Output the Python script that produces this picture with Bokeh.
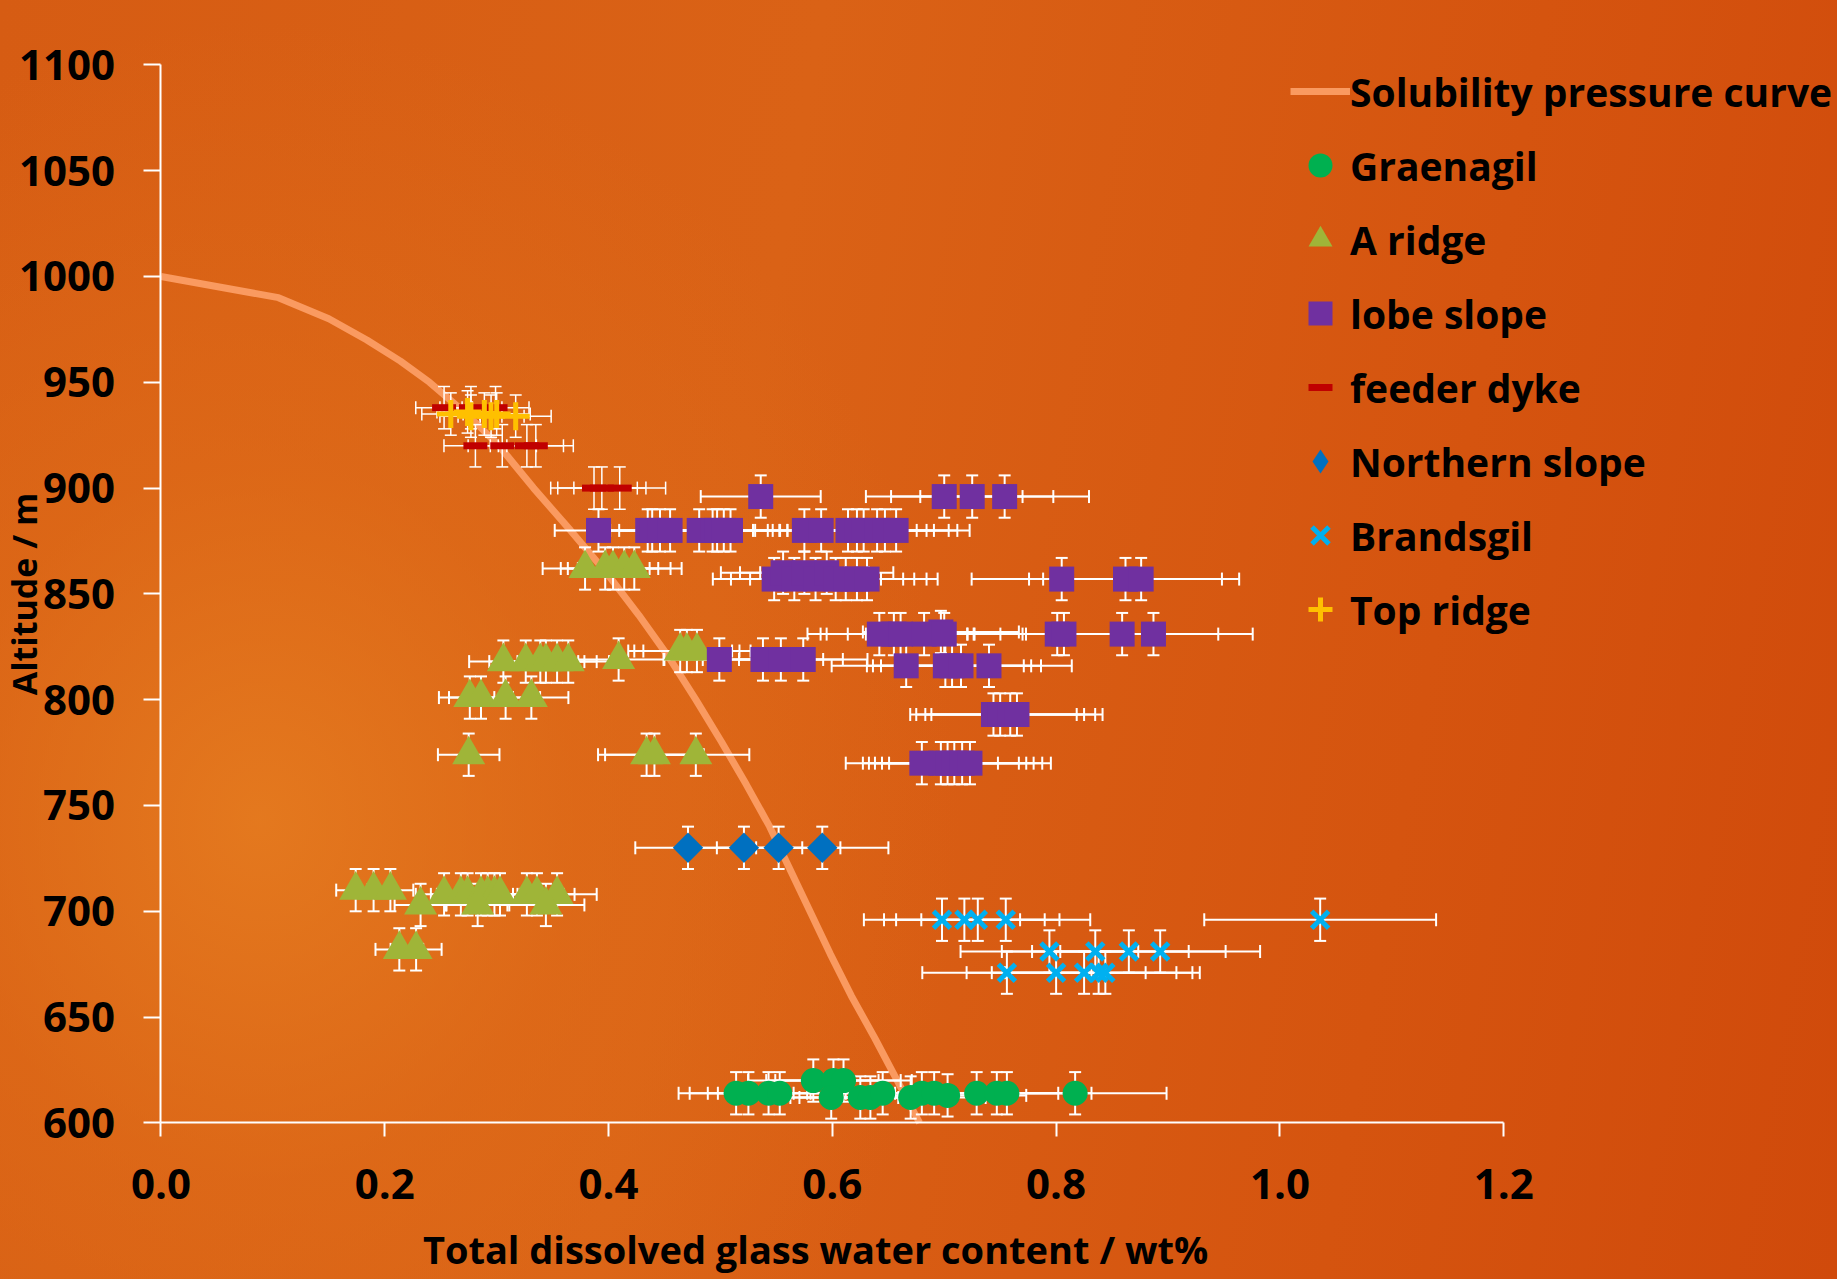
from math import pi
from bokeh.plotting import figure
from bokeh.models import (Legend, LegendItem, FixedTicker, NumeralTickFormatter,
                          Label, GlobalInlineStyleSheet)
from bokeh.embed import file_html
from bokeh.resources import INLINE

# ---------------- data ----------------
x_ticks = [0.0, 0.2, 0.4, 0.6, 0.8, 1.0, 1.2]
y_ticks = [600, 650, 700, 750, 800, 850, 900, 950, 1000, 1050, 1100]

curve_water = [0.0, 0.105, 0.150, 0.184, 0.214, 0.240, 0.262, 0.283, 0.302, 0.333,
               0.366, 0.398, 0.427, 0.454, 0.478, 0.501, 0.523, 0.544, 0.562, 0.580,
               0.598, 0.617, 0.638, 0.658, 0.678]
curve_alt = [1000, 990, 980, 970, 960, 950, 940, 930, 920, 900,
             880, 860, 840, 820, 800, 780, 760, 740, 720, 700,
             680, 660, 640, 620, 600]

graenagil_water = [0.514, 0.525, 0.543, 0.553, 0.583, 0.601, 0.610, 0.599, 0.625, 0.634,
                   0.645, 0.670, 0.680, 0.691, 0.703, 0.729, 0.747, 0.756, 0.817]
graenagil_alt = [614, 614, 614, 614, 620, 620, 620, 612, 612, 612,
                 614, 612, 614, 614, 613, 614, 614, 614, 614]

a_ridge_water = [0.174, 0.190, 0.205, 0.232,
                 0.253, 0.268, 0.274, 0.286, 0.292, 0.298, 0.303, 0.327, 0.336, 0.354,
                 0.283, 0.344, 0.213, 0.228,
                 0.275, 0.434, 0.441, 0.478,
                 0.276, 0.286, 0.308, 0.331,
                 0.306, 0.326, 0.339, 0.344, 0.354, 0.364, 0.409,
                 0.464, 0.470, 0.479,
                 0.379, 0.397, 0.404, 0.414, 0.423]
a_ridge_alt = [710, 710, 710, 703,
               708, 708, 708, 708, 708, 708, 708, 708, 708, 708,
               703, 703, 682, 682,
               774, 774, 774, 774,
               801, 801, 801, 801,
               818, 818, 818, 818, 818, 818, 819,
               823, 823, 823,
               862, 862, 862, 862, 862]

lobe_water = [0.536, 0.700, 0.725, 0.754,
              0.391, 0.435, 0.439, 0.446, 0.455, 0.481, 0.493, 0.497, 0.503, 0.509,
              0.575, 0.590, 0.614, 0.622, 0.628, 0.640, 0.647, 0.657,
              0.548, 0.556, 0.566, 0.575, 0.585, 0.595, 0.603, 0.612, 0.622, 0.631,
              0.805, 0.862, 0.876,
              0.642, 0.655, 0.661, 0.682, 0.697, 0.700, 0.801, 0.807, 0.859, 0.887,
              0.499, 0.538, 0.554, 0.574,
              0.666, 0.701, 0.707, 0.715, 0.740,
              0.744, 0.750, 0.759, 0.765,
              0.680, 0.697, 0.703, 0.709, 0.716, 0.723]
lobe_alt = [896, 896, 896, 896,
            880, 880, 880, 880, 880, 880, 880, 880, 880, 880,
            880, 880, 880, 880, 880, 880, 880, 880,
            857, 860, 857, 860, 857, 860, 857, 857, 857, 857,
            857, 857, 857,
            831, 831, 831, 831, 832, 831, 831, 831, 831, 831,
            819, 819, 819, 819,
            816, 816, 816, 816, 816,
            793, 793, 793, 793,
            770, 770, 770, 770, 770, 770]

feeder_water = [0.253, 0.277, 0.299, 0.281, 0.305, 0.327, 0.335, 0.387, 0.394, 0.410]
feeder_alt = [938, 938, 938, 920, 920, 920, 920, 900, 900, 900]

northern_water = [0.471, 0.521, 0.552, 0.591]
northern_alt = [730, 730, 730, 730]

brandsgil_water = [0.698, 0.718, 0.730, 0.755, 1.036,
                   0.794, 0.835, 0.865, 0.893,
                   0.756, 0.800, 0.825, 0.838, 0.844]
brandsgil_alt = [696, 696, 696, 696, 696,
                 681, 681, 681, 681,
                 671, 671, 671, 671, 671]

top_ridge_water = [0.259, 0.274, 0.277, 0.289, 0.295, 0.300, 0.317]
top_ridge_alt = [935, 936, 934, 935, 934, 935, 934]

X_ERR_FRAC = 0.10   # relative error on water content
Y_ERR = 10          # m

FONT = "Open Sans"

# ---------------- figure ----------------
# The frame fills the whole canvas; the axes are pinned at water = 0 and altitude = 600.
p = figure(width=1837, height=1279, x_range=(-0.14344, 1.49835), y_range=(525.99, 1130.43),
           output_backend="svg", toolbar_location=None, title=None,
           min_border_left=0, min_border_right=0, min_border_top=0, min_border_bottom=0)
p.background_fill_alpha = 0
p.border_fill_alpha = 0
p.outline_line_color = None
p.grid.visible = False

for ax in (p.xaxis[0], p.yaxis[0]):
    ax.axis_line_color = "white"
    ax.axis_line_width = 2
    ax.major_tick_line_color = "white"
    ax.major_tick_line_width = 2
    ax.major_tick_in = 0
    ax.minor_tick_line_color = None
    ax.major_label_text_font = FONT
    ax.major_label_text_font_style = "bold"
    ax.major_label_text_font_size = "42px"
    ax.major_label_text_color = "black"

p.xaxis.ticker = FixedTicker(ticks=x_ticks)
p.xaxis.formatter = NumeralTickFormatter(format="0.0")
p.xaxis.bounds = (0, 1.2)
p.xaxis.fixed_location = 600
p.xaxis.major_tick_out = 14
p.xaxis.major_label_standoff = 32

p.yaxis.ticker = FixedTicker(ticks=y_ticks)
p.yaxis.formatter = NumeralTickFormatter(format="0")
p.yaxis.bounds = (600, 1100)
p.yaxis.fixed_location = 0
p.yaxis.major_tick_out = 17
p.yaxis.major_label_standoff = 29

# solubility curve
r_curve = p.line(curve_water, curve_alt, line_color="#FA9A60", line_width=7)

def add_errors(xs, ys, lw):
    xe = [X_ERR_FRAC * x for x in xs]
    lo = [x - e for x, e in zip(xs, xe)]
    hi = [x + e for x, e in zip(xs, xe)]
    ylo = [y - Y_ERR for y in ys]
    yhi = [y + Y_ERR for y in ys]
    p.segment(x0=lo, y0=ys, x1=hi, y1=ys, line_color="white", line_width=lw)
    p.segment(x0=xs, y0=ylo, x1=xs, y1=yhi, line_color="white", line_width=lw)
    p.scatter(x=lo + hi, y=list(ys) + list(ys), marker="dash", angle=pi / 2, size=13,
              line_color="white", line_width=lw)
    p.scatter(x=list(xs) + list(xs), y=ylo + yhi, marker="dash", size=12,
              line_color="white", line_width=lw)

add_errors(graenagil_water, graenagil_alt, 2)
add_errors(a_ridge_water, a_ridge_alt, 2)
add_errors(lobe_water, lobe_alt, 2)
add_errors(feeder_water, feeder_alt, 1.5)
add_errors(northern_water, northern_alt, 2)
add_errors(brandsgil_water, brandsgil_alt, 2)
add_errors(top_ridge_water, top_ridge_alt, 1.5)

r_g = p.scatter(graenagil_water, graenagil_alt, marker="circle", size=25,
                fill_color="#00B050", line_color=None)
r_a = p.scatter(a_ridge_water, a_ridge_alt, marker="triangle", size=33,
                fill_color="#9FB538", line_color=None)
r_l = p.scatter(lobe_water, lobe_alt, marker="square", size=25,
                fill_color="#7030A0", line_color=None)
r_f = p.scatter(feeder_water, feeder_alt, marker="dash", size=24,
                line_color="#C00000", line_width=7)
# Northern slope: diamond (legend swatch) covered by a 45-degree square of the same colour
r_n_key = p.scatter(northern_water, northern_alt, marker="diamond", size=28,
                    fill_color="#0070C0", line_color=None)
r_n = p.scatter(northern_water, northern_alt, marker="square", angle=pi / 4, size=21.5,
                fill_color="#0070C0", line_color=None)
r_b = p.scatter(brandsgil_water, brandsgil_alt, marker="x", size=24,
                line_color="#00B0F0", line_width=5)
r_t = p.scatter(top_ridge_water, top_ridge_alt, marker="cross", size=28,
                line_color="#FFC000", line_width=5)

legend = Legend(items=[
    LegendItem(label="Solubility pressure curve", renderers=[r_curve]),
    LegendItem(label="Graenagil", renderers=[r_g]),
    LegendItem(label="A ridge", renderers=[r_a]),
    LegendItem(label="lobe slope", renderers=[r_l]),
    LegendItem(label="feeder dyke", renderers=[r_f]),
    LegendItem(label="Northern slope", renderers=[r_n_key]),
    LegendItem(label="Brandsgil", renderers=[r_b]),
    LegendItem(label="Top ridge", renderers=[r_t]),
], location=(1290, 640), glyph_width=60, glyph_height=60, spacing=14, padding=0, margin=0,
    label_standoff=0, label_text_font=FONT, label_text_font_style="bold",
    label_text_font_size="39px", label_text_color="black",
    border_line_color=None, background_fill_alpha=0)
p.add_layout(legend)

# axis titles
p.add_layout(Label(x=0.585, y=540.2, text="Total dissolved glass water content / wt%",
                   text_align="center", text_baseline="alphabetic",
                   text_font=FONT, text_font_style="bold",
                   text_font_size="38px", text_color="black"))
p.add_layout(Label(x=-0.1224, y=850, angle=pi / 2, text="Altitude / m",
                   text_align="center", text_baseline="middle",
                   text_font=FONT, text_font_style="bold",
                   text_font_size="34px", text_color="black"))

p.stylesheets = [GlobalInlineStyleSheet(css=
    "html,body{margin:0;padding:0;overflow:hidden;background:"
    "radial-gradient(ellipse 700px 800px at 260px 820px, rgba(230,125,32,0.85) 0%, rgba(225,112,26,0.5) 45%, rgba(217,98,22,0) 100%),"
    "linear-gradient(100deg, #D65C13 0%, #DA6216 40%, #D5540F 75%, #D04A0B 100%);}"
)]

open("out.html", "w").write(file_html(p, INLINE))
